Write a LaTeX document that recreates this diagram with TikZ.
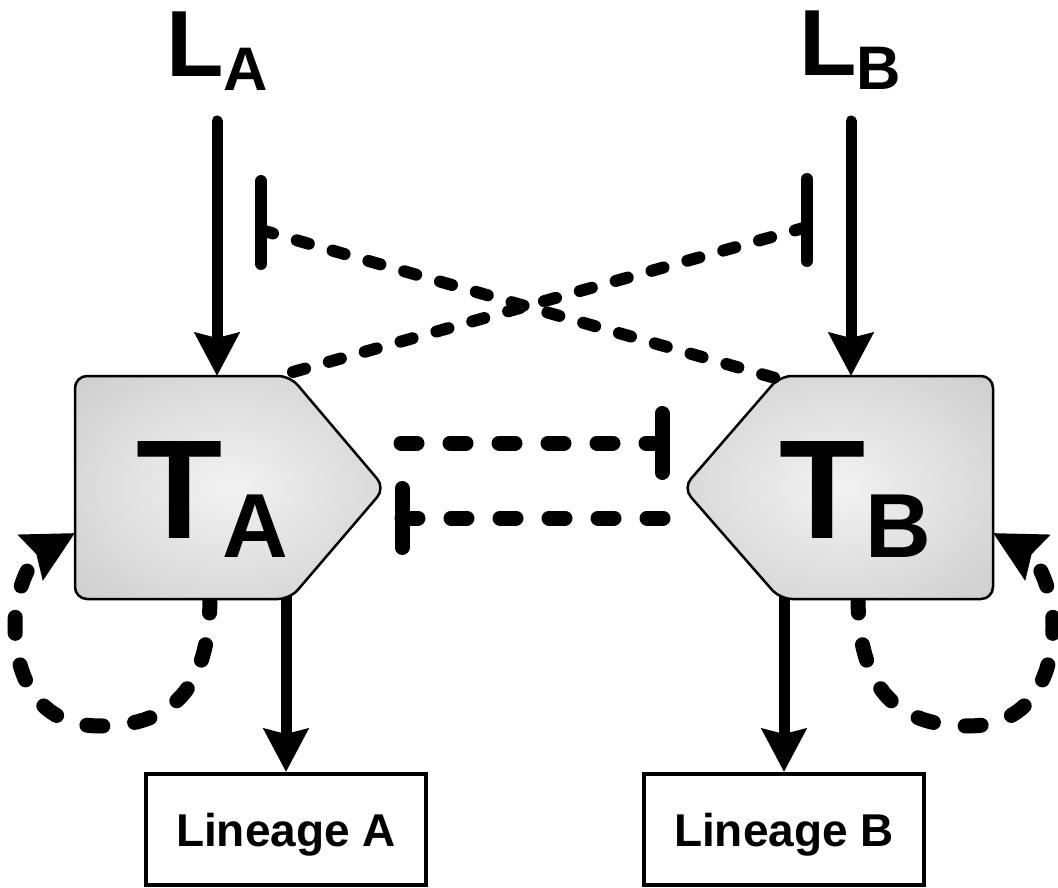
\documentclass[tikz,border=0pt]{standalone}
\usepackage{fontspec}
\setmainfont{Liberation Sans}
\usetikzlibrary{arrows.meta,calc}
\pgfdeclareradialshading{boxshade}{\pgfpoint{0bp}{0bp}}{color(0bp)=(black!5); color(40bp)=(black!21); color(72bp)=(black!28)}
\begin{document}
\begin{tikzpicture}[x=1pt,y=-1pt,
  actline/.style={line width=11pt, line cap=round, -{Stealth[length=43pt,width=44pt,inset=5pt]}},
  loopline/.style={line width=15pt, line cap=round, dash pattern=on 16pt off 32pt, -{Stealth[length=50pt,width=50pt,inset=6pt]}},
  inhh/.style={line width=15pt, line cap=round, dash pattern=on 16pt off 33pt},
  barh/.style={line width=15pt, line cap=round},
  inhd/.style={line width=12pt, line cap=round, dash pattern=on 12.5pt off 24.75pt},
  bard/.style={line width=12pt, line cap=round},
  tbox/.style={draw, line width=2.5pt, rounded corners=12pt, shade, shading=boxshade},
  linbox/.style={draw, line width=4pt, minimum width=280pt, minimum height=111pt, inner sep=0pt, text depth=0pt, font=\fontsize{46}{46}\selectfont\bfseries},
  lab/.style={anchor=base west, inner sep=0pt, font=\bfseries}
]
\useasboundingbox (0,0) rectangle (1058,888);

% coordinates
\coordinate (LAout) at (217,121);
\coordinate (TAin) at (217,376);
\coordinate (LBout) at (851,121);
\coordinate (TBin) at (851,376);
\coordinate (TAloopS) at (210,597);
\coordinate (TAloopE) at (75,533);
\coordinate (TBloopS) at (858,597);
\coordinate (TBloopE) at (993,533);
\coordinate (TAout) at (286,590);
\coordinate (TBout) at (784,590);
\coordinate (TAr1) at (401,443);
\coordinate (barTB1) at (662,443);
\coordinate (TBl1) at (663,518);
\coordinate (barTA1) at (402,518);
\coordinate (TAc) at (293,372);
\coordinate (barLB) at (807,227);
\coordinate (TBc) at (775,378);
\coordinate (barLA) at (261,230);

% lineage boxes
\node[linbox] (linA) at (286,829.5) {Lineage A};
\node[linbox] (linB) at (784,829.5) {Lineage B};

% self loops
\draw[loopline] (TAloopS) .. controls (210,700) and (160,726) .. (100,726)
  .. controls (40,726) and (15,680) .. (15,625)
  .. controls (15,585) and (35,555) .. (TAloopE);
\draw[loopline] (TBloopS) .. controls (858,700) and (908,726) .. (968,726)
  .. controls (1028,726) and (1053,680) .. (1053,625)
  .. controls (1053,585) and (1033,555) .. (TBloopE);

% outputs
\draw[actline] (TAout) -- (linA);
\draw[actline] (TBout) -- (linB);

% T boxes
\path[tbox] (75,376) -- (290,376) -- (385,488) -- (290,599) -- (75,599) -- cycle;
\path[tbox] (993,376) -- (780,376) -- (683,488) -- (780,599) -- (993,599) -- cycle;

\node[lab] (TA) at (136,538) {\fontsize{141}{141}\selectfont T\raisebox{-19pt}{\fontsize{91}{91}\selectfont A}};
\node[lab] (TB) at (779,538) {\fontsize{141}{141}\selectfont T\raisebox{-19pt}{\fontsize{91}{91}\selectfont B}};

% ligands
\node[lab] (LA) at (166,77) {\fontsize{94}{94}\selectfont L\raisebox{-14pt}{\fontsize{61.5}{61.5}\selectfont A}};
\node[lab] (LB) at (799,76) {\fontsize{94}{94}\selectfont L\raisebox{-14pt}{\fontsize{61.5}{61.5}\selectfont B}};
\draw[actline] (LAout) -- (TAin);
\draw[actline] (LBout) -- (TBin);

% mutual inhibition (horizontal)
\draw[inhh] (TAr1) -- (barTB1);
\draw[barh] ($(barTB1)+(0,-29.5)$) -- ($(barTB1)+(0,29.5)$);
\draw[inhh] (TBl1) -- (barTA1);
\draw[barh] ($(barTA1)+(0,-29.5)$) -- ($(barTA1)+(0,29.5)$);

% cross inhibition of ligands
\draw[inhd] (TAc) -- (barLB);
\draw[bard] ($(barLB)+(0,-48)$) -- ($(barLB)+(0,34)$);
\draw[inhd] (barLA) -- (TBc);
\draw[bard] ($(barLA)+(0,-49)$) -- ($(barLA)+(0,34)$);
\end{tikzpicture}
\end{document}
